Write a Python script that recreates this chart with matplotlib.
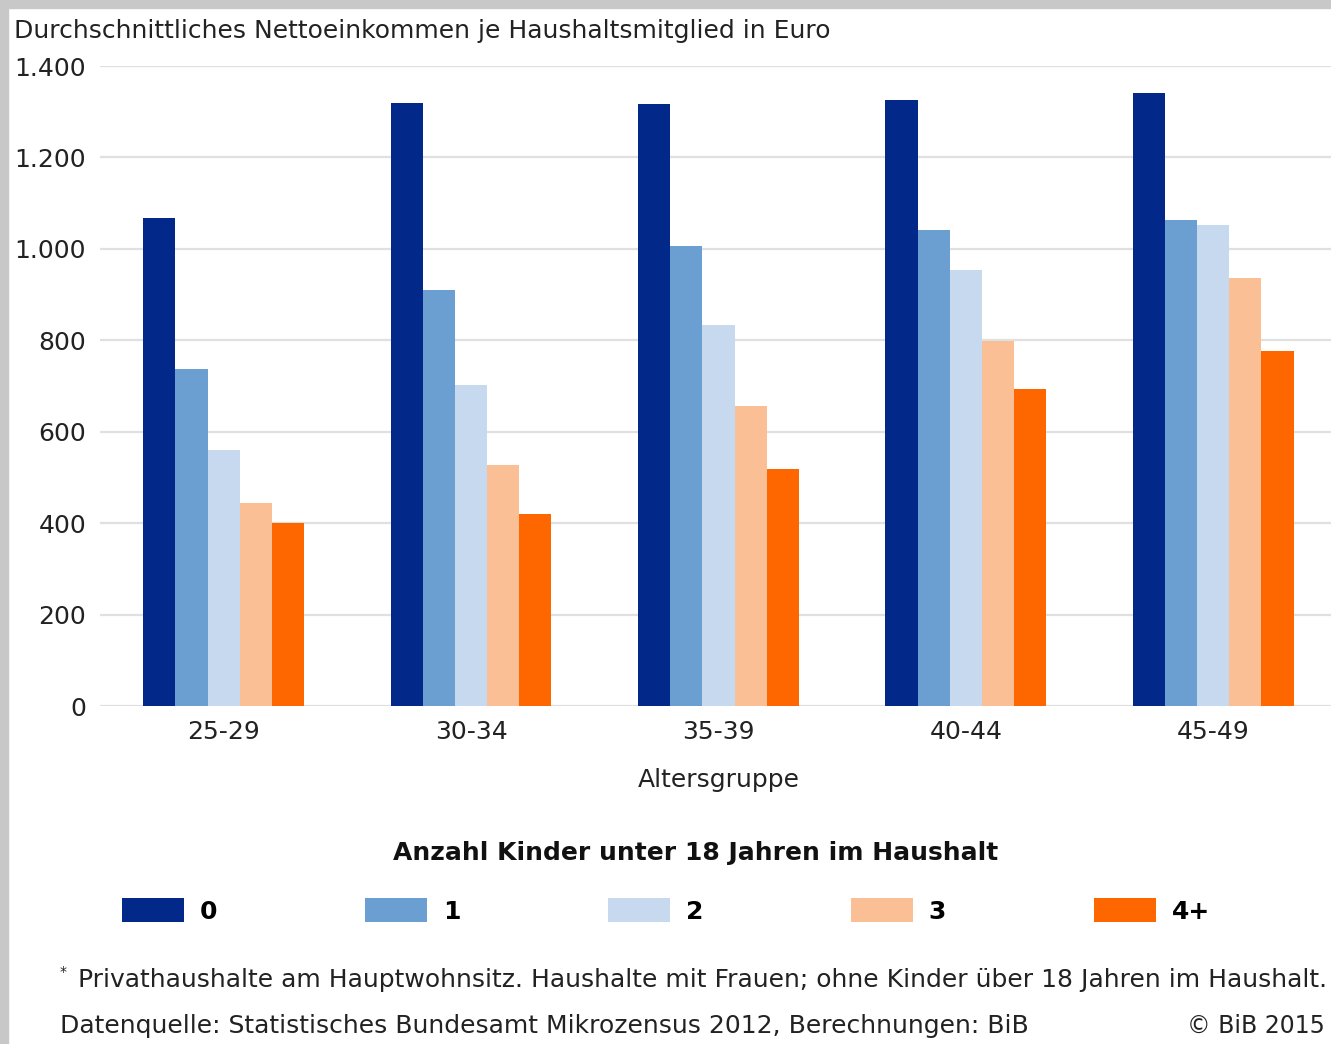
import numpy as np
import matplotlib.pyplot as plt
from matplotlib.patches import Patch, Rectangle

# ---------------- Data ----------------
age_groups = ["25-29", "30-34", "35-39", "40-44", "45-49"]
children = ["0", "1", "2", "3", "4+"]
income_0 = [1068, 1318, 1317, 1326, 1340]
income_1 = [738, 909, 1007, 1041, 1064]
income_2 = [561, 702, 833, 954, 1052]
income_3 = [445, 528, 656, 798, 936]
income_4 = [400, 421, 518, 693, 777]
series = [income_0, income_1, income_2, income_3, income_4]
colors = ["#02298a", "#6b9fd2", "#c6d9ee", "#fbbf96", "#fe6600"]

FS = 18
TXT = "#222222"

# ---------------- Figure ----------------
W, H = 1331, 1044
fig = plt.figure(figsize=(W / 100, H / 100), dpi=100)
fig.patch.set_facecolor("white")

# grey frame on top and left
fig.patches.append(Rectangle((0, 1 - 8 / H), 1, 8 / H, transform=fig.transFigure,
                             color="#c8c8c8", zorder=0))
fig.patches.append(Rectangle((0, 0), 8 / W, 1, transform=fig.transFigure,
                             color="#c8c8c8", zorder=0))

ax = fig.add_axes([100 / W, 1 - 706 / H, 1 - 100 / W, (706 - 66) / H])

x = np.arange(len(age_groups))
bar_w = 0.13
for i, (vals, col) in enumerate(zip(series, colors)):
    ax.bar(x + (i - 2) * bar_w, vals, width=bar_w, color=col, zorder=3, linewidth=0)

ax.set_xlim(-0.5, (W - 224) / 247.3)
ax.set_ylim(0, 1400)
yticks = np.arange(0, 1401, 200)
ax.set_yticks(yticks)
ax.set_yticklabels([f"{v:,}".replace(",", ".") for v in yticks], fontsize=FS, color=TXT)
ax.set_xticks(x)
ax.set_xticklabels(age_groups, fontsize=FS, color=TXT)
ax.tick_params(length=0, axis="y", pad=10)
ax.tick_params(length=0, axis="x", pad=10)
ax.grid(axis="y", color="#e0e0e0", linewidth=1.6, zorder=0)
for s in ax.spines.values():
    s.set_visible(False)

fig.text(719 / W, 1 - 780 / H, "Altersgruppe", fontsize=FS, color=TXT, ha="center", va="center")
fig.text(14 / W, 1 - 31 / H, "Durchschnittliches Nettoeinkommen je Haushaltsmitglied in Euro",
         fontsize=FS, color=TXT, va="center", ha="left")

# ---------------- Legend ----------------
fig.text(696 / W, 1 - 853 / H, "Anzahl Kinder unter 18 Jahren im Haushalt",
         fontsize=FS, fontweight="bold", color="#111111", ha="center", va="center")
handles = [Patch(facecolor=c, edgecolor="none") for c in colors]
fig.legend(handles, children, loc="center", bbox_to_anchor=(666 / W, 1 - 911 / H),
           ncol=5, frameon=False, prop={"size": FS, "weight": "bold"},
           handlelength=2.48, handleheight=1.04, handletextpad=0.64, columnspacing=5.9)

# ---------------- Footnotes ----------------
fig.text(60 / W, 1 - 972 / H, "*", fontsize=10, color=TXT, va="center")
fig.text(78 / W, 1 - 980 / H,
         "Privathaushalte am Hauptwohnsitz. Haushalte mit Frauen; ohne Kinder über 18 Jahren im Haushalt.",
         fontsize=FS, color=TXT, va="center")
fig.text(60 / W, 1 - 1026 / H,
         "Datenquelle: Statistisches Bundesamt Mikrozensus 2012, Berechnungen: BiB",
         fontsize=FS, color=TXT, va="center")
fig.text(1325 / W, 1 - 1026 / H, "© BiB 2015", fontsize=17, color=TXT, va="center", ha="right")

fig.savefig("out.png", dpi=100)
